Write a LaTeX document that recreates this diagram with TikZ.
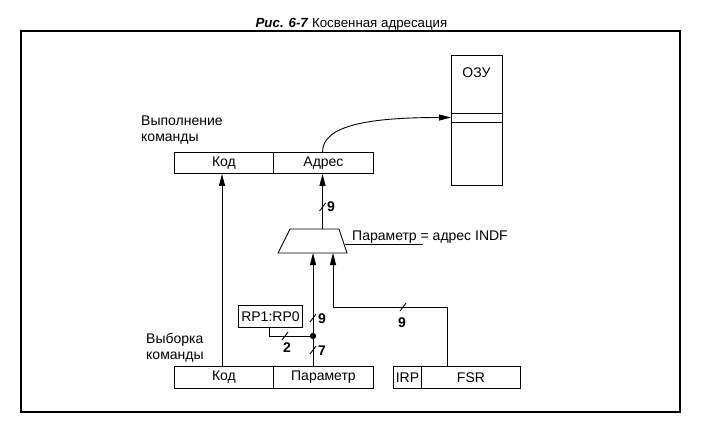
\documentclass[tikz,border=0pt]{standalone}
\usepackage{fontspec}
\setmainfont{Liberation Sans}
\usetikzlibrary{arrows.meta}
\begin{document}
\begin{tikzpicture}[x=1pt,y=-1pt,
  every node/.style={font=\fontsize{14}{16}\selectfont},
  regbox/.style={draw,line width=0.9pt,inner sep=0pt,anchor=north west},
  wire/.style={line width=0.9pt},
  arr/.style={wire,-{Triangle[length=12pt,width=6pt]}},
  busslash/.style={line width=0.9pt},
  lbl/.style={inner sep=0pt}]
\useasboundingbox (0,0) rectangle (712,437);
% frame
\draw[line width=1.6pt] (21,31) rectangle (680,412);
\node[lbl,anchor=base,font=\fontsize{13.3}{15}\selectfont] (title) at (351.5,27) {\textbf{\textit{Рис. 6-7}} Косвенная адресация};
% RAM
\node[regbox,minimum width=51pt,minimum height=130pt] (ram) at (451,55) {};
\node[lbl] (ramlbl) at (476.5,73) {ОЗУ};
\draw[wire] (451,113) -- (502,113);
\draw[wire] (451,122) -- (502,122);
\coordinate (ramslot) at (451,117.5);
% top register
\node[lbl,anchor=west,align=left] (exec) at (141,130) {Выполнение\\команды};
\node[regbox,minimum width=99pt,minimum height=21pt] (kod1) at (174,152) {Код};
\node[regbox,minimum width=100pt,minimum height=21pt] (adr1) at (273,152) {Адрес};
\coordinate (adrtop) at (322.5,152);
\draw[arr] (adrtop) .. controls (322.5,125) and (370,117.5) .. (ramslot);
% bottom register
\node[lbl,anchor=west,align=left] (fetch) at (146,348) {Выборка\\команды};
\node[regbox,minimum width=99pt,minimum height=22pt] (kod2) at (174,366) {Код};
\node[regbox,minimum width=100pt,minimum height=22pt] (par2) at (273,366) {Параметр};
\node[regbox,minimum width=28pt,minimum height=22pt] (irp) at (393,366) {IRP};
\node[regbox,minimum width=99pt,minimum height=22pt] (fsr) at (421,366) {FSR};
% Kod arrow
\draw[arr] (kod2.north -| 222,0) -- (kod1.south -| 222,0);
% mux
\coordinate (muxtl) at (290,229);
\coordinate (muxtr) at (339,229);
\coordinate (muxbr) at (347,253);
\coordinate (muxbl) at (278,253);
\draw[wire] (muxtl) -- (muxtr) -- (muxbr) -- (muxbl) -- cycle;
\coordinate (muxout) at (322.5,229);
\coordinate (muxin1) at (313,253);
\coordinate (muxin2) at (333,253);
\draw[arr] (muxout) -- (adr1.south -| muxout);
\draw[busslash] (319.5,211) -- (325.5,203);
\node[lbl,anchor=west] (n9a) at (327,207) {\textbf{9}};
% leader label
\coordinate (leadA) at (344.5,244);
\coordinate (leadB) at (423,244);
\draw[wire] (leadA) -- (leadB);
\node[lbl,anchor=base west] (paramlbl) at (352,240) {Параметр = адрес INDF};
% parameter path
\coordinate (p2out) at (313,366);
\coordinate (jdot) at (313,336);
\draw[arr] (p2out) -- (muxin1);
\fill (jdot) circle (3.2pt);
\draw[busslash] (310,322) -- (316,314);
\node[lbl,anchor=west] (n9b) at (318,318.5) {\textbf{9}};
\draw[busslash] (310,354) -- (316,346);
\node[lbl,anchor=west] (n7) at (318,350.5) {\textbf{7}};
% RP box
\node[regbox,minimum width=64pt,minimum height=22pt] (rp) at (238,305) {RP1:RP0};
\draw[wire] (rp.south -| 269,0) |- (jdot);
\draw[busslash] (282,340) -- (288,332);
\node[lbl] (n2) at (287,347.5) {\textbf{2}};
% FSR path
\coordinate (fsrtop) at (447,366);
\coordinate (fsrbend) at (447,307);
\draw[arr] (fsrtop) -- (fsrbend) -| (muxin2);
\draw[busslash] (400,311) -- (406,303);
\node[lbl] (n9c) at (402,322.5) {\textbf{9}};
\end{tikzpicture}
\end{document}
